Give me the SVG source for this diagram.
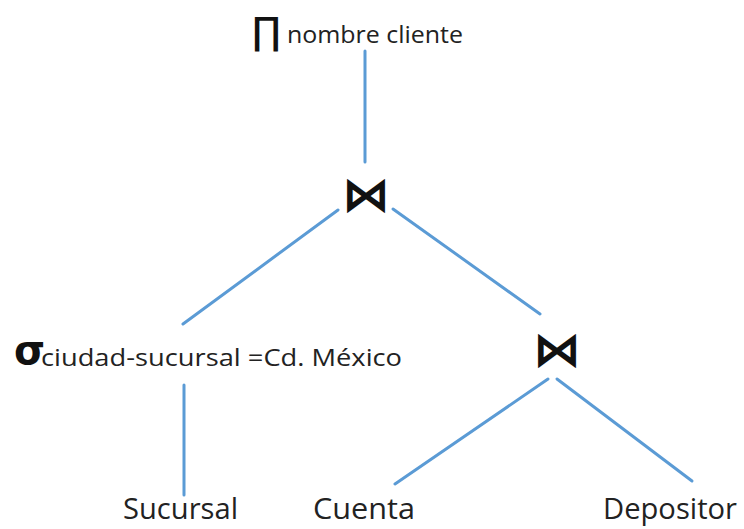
<svg xmlns="http://www.w3.org/2000/svg" width="744" height="529" viewBox="0 0 744 529">
  <style>
    .edge { stroke: #5B9BD5; stroke-width: 3; stroke-linecap: round; fill: none; }
    .lbl { font-family: "Open Sans", "Noto Sans", sans-serif; fill: #222; }
    .leaf { font-size: 30px; }
    .sub { font-size: 24px; }
    .op { font-family: "DejaVu Sans", sans-serif; fill: #111; }
    .join { font-size: 48px; font-weight: bold; }
  </style>
  <rect width="744" height="529" fill="#ffffff"/>

  <!-- tree edges -->
  <g id="connectors">
    <line class="edge" x1="365" y1="51" x2="365" y2="162"/>
    <line class="edge" x1="338" y1="210" x2="183" y2="324"/>
    <line class="edge" x1="393" y1="209" x2="540" y2="314"/>
    <line class="edge" x1="184" y1="385" x2="184" y2="495"/>
    <line class="edge" x1="548" y1="379" x2="395" y2="484"/>
    <line class="edge" x1="557" y1="379" x2="692" y2="481"/>
  </g>

  <!-- projection -->
  <g id="projection">
    <text class="op" x="252" y="44" font-size="38">∏</text>
    <text class="lbl sub" x="287" y="43" textLength="176" lengthAdjust="spacingAndGlyphs">nombre cliente</text>
  </g>

  <!-- upper join -->
  <g id="join-top">
    <text class="op join" x="366" y="211" text-anchor="middle">⋈</text>
  </g>

  <!-- selection -->
  <g id="selection">
    <text class="op" x="14" y="364" font-size="40" font-weight="bold">σ</text>
    <text class="lbl sub" x="41" y="366" textLength="361" lengthAdjust="spacingAndGlyphs">ciudad-sucursal =Cd. México</text>
  </g>

  <!-- lower join -->
  <g id="join-bottom">
    <text class="op join" x="557" y="366" text-anchor="middle">⋈</text>
  </g>

  <!-- relations -->
  <g id="sucursal">
    <text class="lbl leaf" x="123" y="519" textLength="115" lengthAdjust="spacingAndGlyphs">Sucursal</text>
  </g>
  <g id="cuenta">
    <text class="lbl leaf" x="313" y="519" textLength="102" lengthAdjust="spacingAndGlyphs">Cuenta</text>
  </g>
  <g id="depositor">
    <text class="lbl leaf" x="603" y="519" textLength="134" lengthAdjust="spacingAndGlyphs">Depositor</text>
  </g>
</svg>
